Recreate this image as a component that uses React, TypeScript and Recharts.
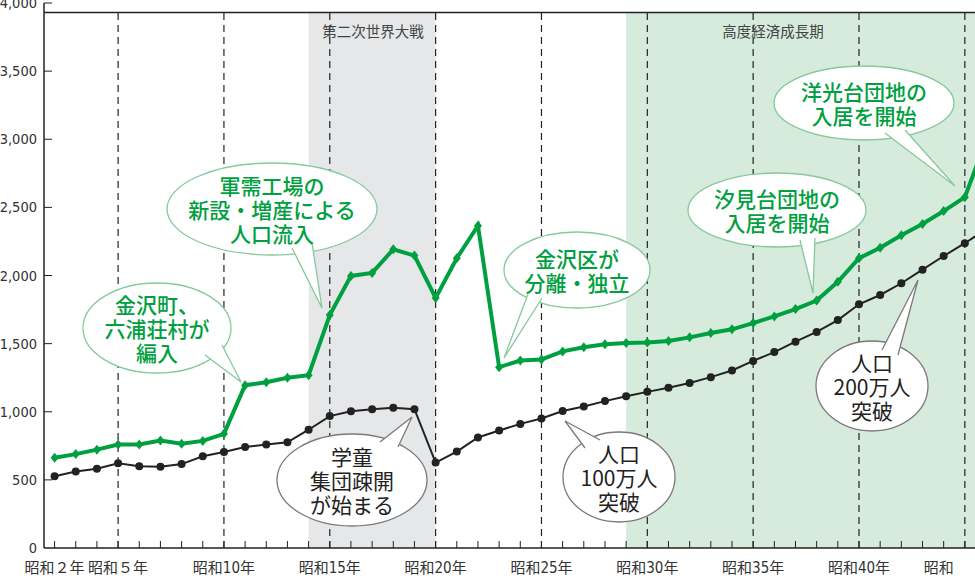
import React from 'react';
import { ComposedChart, Line, XAxis, YAxis, ReferenceArea, ReferenceLine } from 'recharts';

// 昭和2年 .. 昭和46年 (last point falls outside the visible range and is clipped)
const years = [
  2, 3, 4, 5, 6, 7, 8, 9, 10, 11, 12, 13, 14, 15, 16, 17, 18, 19, 20, 21, 22, 23, 24,
  25, 26, 27, 28, 29, 30, 31, 32, 33, 34, 35, 36, 37, 38, 39, 40, 41, 42, 43, 44, 45, 46,
];

// green series
const greenSeries = [
  662, 689, 722, 759, 759, 789, 765, 786, 838, 1195, 1216, 1249, 1268, 1710, 1997, 2019,
  2192, 2146, 1835, 2127, 2365, 1327, 1376, 1384, 1443, 1473, 1495, 1505, 1508, 1519,
  1546, 1578, 1605, 1651, 1700, 1754, 1816, 1954, 2127, 2203, 2295, 2378, 2473, 2575, 2990,
];

// black series (population, thousands)
const cityPopulation = [
  527, 562, 581, 622, 600, 597, 616, 673, 705, 741, 759, 776, 868, 968, 1003, 1019, 1030,
  1019, 627, 708, 811, 862, 911, 951, 1005, 1038, 1078, 1114, 1146, 1176, 1211, 1254,
  1303, 1373, 1438, 1514, 1586, 1673, 1789, 1857, 1943, 2043, 2143, 2237, 2340,
];

const xTicks = years.filter((y) => y <= 45);
const xLabels: Record<number, string> = {
  2: '昭和２年',
  5: '昭和５年',
  10: '昭和10年',
  15: '昭和15年',
  20: '昭和20年',
  25: '昭和25年',
  30: '昭和30年',
  35: '昭和35年',
  40: '昭和40年',
  45: '昭和',
};
const dashedYears = [5, 10, 15, 20, 25, 30, 35, 40, 45];
const yTicks = [0, 500, 1000, 1500, 2000, 2500, 3000, 3500, 4000];

const FRAME_TOP = 3930;
const GREEN = '#00a040';
const TICK_FONT = "'Liberation Sans Narrow', 'DejaVu Sans Condensed', 'Noto Sans CJK JP', sans-serif";
const JP_FONT = "'Noto Sans CJK JP', sans-serif";

const data = years.map((year, i) => ({
  year,
  green: greenSeries[i],
  black: cityPopulation[i],
}));

type Bubble = {
  cx: number;
  cy: number;
  rx: number;
  ry: number;
  tail: [number, number][];
  lines: string[];
  kind: 'green' | 'black';
};

const bubbles: Bubble[] = [
  { cx: 157, cy: 328, rx: 74, ry: 45, tail: [[205, 355], [241, 382], [222, 345]], lines: ['金沢町、', '六浦荘村が', '編入'], kind: 'green' },
  { cx: 272, cy: 209, rx: 105, ry: 46, tail: [[292, 248], [322, 308], [312, 243]], lines: ['軍需工場の', '新設・増産による', '人口流入'], kind: 'green' },
  { cx: 352, cy: 480, rx: 75, ry: 46, tail: [[380, 442], [412, 417], [398, 447]], lines: ['学童', '集団疎開', 'が始まる'], kind: 'black' },
  { cx: 577, cy: 270, rx: 73, ry: 38, tail: [[528, 294], [504, 358], [542, 298]], lines: ['金沢区が', '分離・独立'], kind: 'green' },
  { cx: 619, cy: 477, rx: 56, ry: 45, tail: [[585, 448], [565, 421], [600, 440]], lines: ['人口', '100万人', '突破'], kind: 'black' },
  { cx: 777, cy: 210, rx: 89, ry: 37, tail: [[800, 240], [813, 293], [815, 238]], lines: ['汐見台団地の', '入居を開始'], kind: 'green' },
  { cx: 864, cy: 103, rx: 90, ry: 37, tail: [[885, 133], [955, 186], [905, 130]], lines: ['洋光台団地の', '入居を開始'], kind: 'green' },
  { cx: 872, cy: 386, rx: 56, ry: 45, tail: [[882, 350], [918, 280], [898, 355]], lines: ['人口', '200万人', '突破'], kind: 'black' },
];

function XTick(props: any) {
  const { x, y, payload } = props;
  const label = xLabels[payload.value];
  return (
    <g>
      <line x1={x} x2={x} y1={y} y2={y - 7} stroke="#222" strokeWidth={1} />
      {label && (
        <text
          x={x}
          y={y + 20}
          dx={payload.value === 45 ? -26 : 0}
          textAnchor="middle"
          dominantBaseline="central"
          fontSize={15}
          fontFamily={TICK_FONT}
          fill="#333"
        >
          {label}
        </text>
      )}
    </g>
  );
}

function YTick(props: any) {
  const { x, y, payload } = props;
  return (
    <g>
      {payload.value > 0 && <line x1={x} x2={x + 8} y1={y} y2={y} stroke="#222" strokeWidth={1} />}
      <text x={x - 7} y={y} textAnchor="end" dominantBaseline="central" fontSize={14.5} fontFamily={TICK_FONT} fill="#333">
        {payload.value.toLocaleString('en-US')}
      </text>
    </g>
  );
}

function diamondDot(p: any) {
  const { cx, cy, index } = p;
  if (cx == null || cy == null) return <g key={index} />;
  return <path key={index} d={`M${cx},${cy - 5} L${cx + 4},${cy} L${cx},${cy + 5} L${cx - 4},${cy} Z`} fill={GREEN} />;
}

function SpeechBubble({ b }: { b: Bubble }) {
  const stroke = b.kind === 'green' ? '#86c99b' : '#7a7a7a';
  const color = b.kind === 'green' ? GREEN : '#222';
  const lh = 24;
  const [p1, tip, p2] = b.tail;
  return (
    <g>
      <ellipse cx={b.cx} cy={b.cy} rx={b.rx} ry={b.ry} fill="#fff" stroke={stroke} strokeWidth={1.3} />
      <path d={`M${p1[0]},${p1[1]} L${tip[0]},${tip[1]} L${p2[0]},${p2[1]}`} fill="#fff" stroke={stroke} strokeWidth={1.3} />
      {b.lines.map((line, i) => (
        <text
          key={i}
          x={b.cx}
          y={b.cy + (i - (b.lines.length - 1) / 2) * lh}
          textAnchor="middle"
          dominantBaseline="central"
          fontSize={21}
          fontWeight={b.kind === 'green' ? 500 : 400}
          fontFamily={JP_FONT}
          fill={color}
        >
          {line}
        </text>
      ))}
    </g>
  );
}

export default function App() {
  return (
    <div style={{ position: 'absolute', left: 0, top: 0, width: 975, height: 578, background: '#fff', overflow: 'hidden' }}>
      <ComposedChart width={975} height={578} data={data} margin={{ top: 3, right: 0, bottom: 0, left: 0 }}>
        <ReferenceArea x1={14} x2={20} y1={0} y2={FRAME_TOP} fill="#e6e7e9" fillOpacity={1} stroke="none" />
        <ReferenceArea x1={29} x2={45.48} y1={0} y2={FRAME_TOP} fill="#d7ebdd" fillOpacity={1} stroke="none" />
        {dashedYears.map((yr) => (
          <ReferenceLine
            key={yr}
            segment={[{ x: yr, y: 0 }, { x: yr, y: FRAME_TOP }]}
            stroke="#222"
            strokeWidth={1.2}
            strokeDasharray="7 5"
          />
        ))}
        <ReferenceLine y={FRAME_TOP} stroke="#222" strokeWidth={1.5} />
        <XAxis
          dataKey="year"
          type="number"
          domain={[1.5, 45.48]}
          allowDataOverflow
          ticks={xTicks}
          interval={0}
          tick={<XTick />}
          tickLine={false}
          tickSize={0}
          tickMargin={0}
          height={30}
          axisLine={{ stroke: '#222', strokeWidth: 1.5 }}
        />
        <YAxis
          type="number"
          domain={[0, 4000]}
          ticks={yTicks}
          interval={0}
          tick={<YTick />}
          tickLine={false}
          tickSize={0}
          tickMargin={0}
          width={44}
          axisLine={{ stroke: '#222', strokeWidth: 1.5 }}
        />
        <Line
          dataKey="black"
          type="linear"
          stroke="#222"
          strokeWidth={2}
          dot={{ r: 4, fill: '#222', stroke: '#222', strokeWidth: 0 }}
          activeDot={false}
          isAnimationActive={false}
        />
        <Line
          dataKey="green"
          type="linear"
          stroke={GREEN}
          strokeWidth={4}
          dot={diamondDot}
          activeDot={false}
          isAnimationActive={false}
        />
      </ComposedChart>
      <svg width={975} height={578} style={{ position: 'absolute', left: 0, top: 0, pointerEvents: 'none' }}>
        <text x={373} y={30} textAnchor="middle" dominantBaseline="central" fontSize={14.5} fontFamily={JP_FONT} fill="#444">
          第二次世界大戦
        </text>
        <text x={773} y={30} textAnchor="middle" dominantBaseline="central" fontSize={14.5} fontFamily={JP_FONT} fill="#444">
          高度経済成長期
        </text>
        {bubbles.map((b, i) => (
          <SpeechBubble key={i} b={b} />
        ))}
      </svg>
    </div>
  );
}
